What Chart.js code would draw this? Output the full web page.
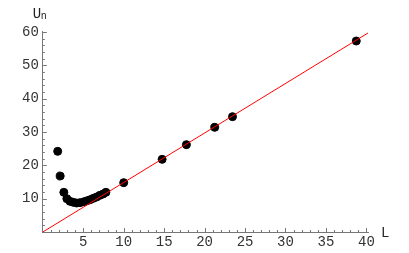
<!DOCTYPE html>
<html lang="en">
<head>
    <meta charset="UTF-8">
    <title>U_n versus L</title>
    <style>
        body {
            margin: 0;
            background-color: #ffffff;
        }
        #wrap {
            width: 409px;
            height: 253px;
        }
    </style>
    <script src="https://cdn.jsdelivr.net/npm/chart.js"></script>
</head>
<body>
    <div id="wrap"><canvas id="grafico" width="409" height="253"></canvas></div>

    <script>
        // valores
        const comprimentos = [1.84, 2.15, 2.6, 2.97, 3.36, 3.77, 4.18, 4.6, 5.1, 5.5, 5.85, 6.25, 6.65, 7.05, 7.45, 7.8, 10.0, 14.75, 17.75, 21.25, 23.45, 38.75];
        const energias = [24.2, 16.8, 11.9, 10.0, 9.2, 8.9, 8.7, 8.8, 9.1, 9.4, 9.7, 10.1, 10.5, 11.0, 11.4, 11.9, 14.8, 21.8, 26.2, 31.4, 34.6, 57.3];

        // reta de referência
        const retaX = [0, 40.2];
        const retaY = [0, 59.7];

        const ticksX = [5, 10, 15, 20, 25, 30, 35, 40];
        const ticksY = [10, 20, 30, 40, 50, 60];

        const fonte = { family: 'Liberation Mono', size: 14 };

        // marcas pequenas para dentro, no estilo do Mathematica
        const marcasPlugin = {
            id: 'marcas',
            afterDraw(chart) {
                const ctx = chart.ctx;
                const x = chart.scales.x;
                const y = chart.scales.y;
                const area = chart.chartArea;
                ctx.save();
                ctx.strokeStyle = '#777';
                ctx.lineWidth = 1;
                ctx.beginPath();
                for (let v = 1; v <= 40; v++) {
                    const px = Math.round(x.getPixelForValue(v)) + 0.5;
                    const len = v % 5 === 0 ? 4 : 2;
                    ctx.moveTo(px, area.bottom);
                    ctx.lineTo(px, area.bottom - len);
                }
                for (let v = 2; v <= 60; v += 2) {
                    const py = Math.round(y.getPixelForValue(v)) + 0.5;
                    const len = v % 10 === 0 ? 4 : 2;
                    ctx.moveTo(area.left, py);
                    ctx.lineTo(area.left + len, py);
                }
                ctx.stroke();

                // rótulos dos eixos
                ctx.fillStyle = '#222';
                ctx.font = '14px "Liberation Mono"';
                ctx.textBaseline = 'alphabetic';
                ctx.fillText('U', area.left - 10, 18);
                ctx.font = '10px "Liberation Mono"';
                ctx.fillText('n', area.left - 2, 19);
                ctx.font = '14px "Liberation Mono"';
                ctx.fillText('L', area.right + 13, area.bottom + 5);
                ctx.restore();
            }
        };

        const ctxGrafico = document.getElementById('grafico').getContext('2d');
        new Chart(ctxGrafico, {
            type: 'scatter',
            data: {
                datasets: [{
                    type: 'line',
                    label: 'reta',
                    data: retaX.map((v, i) => ({ x: v, y: retaY[i] })),
                    borderColor: '#ff0000',
                    borderWidth: 1,
                    pointRadius: 0,
                    fill: false
                }, {
                    label: 'U_n',
                    data: comprimentos.map((v, i) => ({ x: v, y: energias[i] })),
                    backgroundColor: '#000000',
                    borderColor: '#000000',
                    pointRadius: 4,
                    pointHoverRadius: 4
                }]
            },
            options: {
                responsive: false,
                animation: false,
                events: [],
                layout: { padding: { left: 18, right: 41, top: 31, bottom: 2 } },
                plugins: {
                    legend: { display: false },
                    tooltip: { enabled: false }
                },
                scales: {
                    x: {
                        type: 'linear',
                        min: 0,
                        max: 40.2,
                        afterBuildTicks: (s) => { s.ticks = ticksX.map(v => ({ value: v })); },
                        grid: { drawOnChartArea: false, drawTicks: false },
                        border: { color: '#777', width: 1 },
                        ticks: { font: fonte, color: '#333', padding: 2, maxRotation: 0 },
                        afterFit: (s) => { s.height = 19; }
                    },
                    y: {
                        type: 'linear',
                        min: 0,
                        max: 60.3,
                        afterBuildTicks: (s) => { s.ticks = ticksY.map(v => ({ value: v })); },
                        grid: { drawOnChartArea: false, drawTicks: false },
                        border: { color: '#777', width: 1 },
                        ticks: { font: fonte, color: '#333', padding: 4 }
                    }
                }
            },
            plugins: [marcasPlugin]
        });
    </script>
</body>
</html>
